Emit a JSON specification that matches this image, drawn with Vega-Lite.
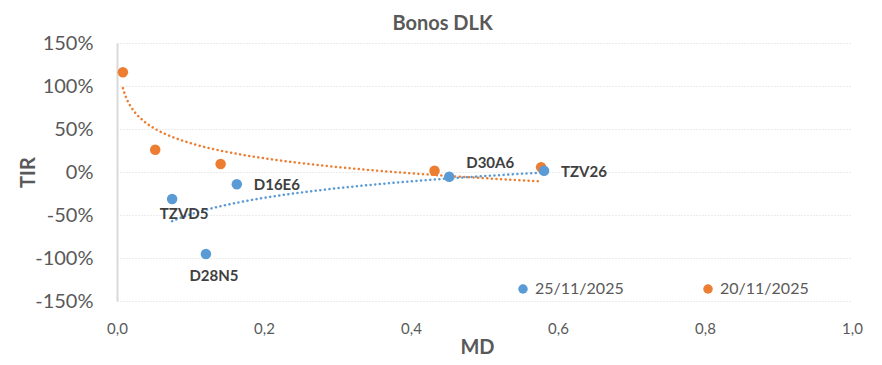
{
  "$schema": "https://vega.github.io/schema/vega-lite/v6.json",
  "width": 735,
  "height": 258,
  "autosize": {"type": "none"},
  "padding": {"left": 117, "top": 43, "right": 30, "bottom": 64},
  "background": "white",
  "title": {
    "text": "Bonos DLK",
    "fontSize": 20,
    "fontWeight": "bold",
    "color": "#595959",
    "font": "Lato",
    "anchor": "middle",
    "frame": "group",
    "dx": -42,
    "offset": 0,
    "dy": 1
  },
  "data": {
    "values": [
      {"md": 0.008, "tir": 1.159, "serie": "20/11/2025", "bono": ""},
      {"md": 0.052, "tir": 0.259, "serie": "20/11/2025", "bono": ""},
      {"md": 0.141, "tir": 0.093, "serie": "20/11/2025", "bono": ""},
      {"md": 0.432, "tir": 0.015, "serie": "20/11/2025", "bono": ""},
      {"md": 0.577, "tir": 0.055, "serie": "20/11/2025", "bono": ""},
      {"md": 0.075, "tir": -0.314, "serie": "25/11/2025", "bono": "TZVD5"},
      {"md": 0.121, "tir": -0.953, "serie": "25/11/2025", "bono": "D28N5"},
      {"md": 0.163, "tir": -0.143, "serie": "25/11/2025", "bono": "D16E6"},
      {"md": 0.452, "tir": -0.055, "serie": "25/11/2025", "bono": "D30A6"},
      {"md": 0.581, "tir": 0.015, "serie": "25/11/2025", "bono": "TZV26"}
    ]
  },
  "layer": [
    {
      "mark": {"type": "rule", "color": "#d9d9d9", "strokeWidth": 2},
      "encoding": {"y": {"datum": 0, "type": "quantitative"}}
    },
    {
      "transform": [{"regression": "tir", "on": "md", "method": "log", "groupby": ["serie"]}],
      "mark": {"type": "line", "strokeWidth": 2.5, "strokeDash": [0.1, 4.5], "strokeCap": "round"},
      "encoding": {
        "x": {"field": "md", "type": "quantitative"},
        "y": {"field": "tir", "type": "quantitative"},
        "color": {"field": "serie", "type": "nominal", "scale": {"domain": ["25/11/2025", "20/11/2025"], "range": ["#5B9BD5", "#ED7D31"]}, "legend": null}
      }
    },
    {
      "mark": {"type": "circle", "size": 110, "opacity": 1},
      "encoding": {
        "x": {"field": "md", "type": "quantitative"},
        "y": {"field": "tir", "type": "quantitative"},
        "color": {
          "field": "serie",
          "type": "nominal",
          "scale": {"domain": ["25/11/2025", "20/11/2025"], "range": ["#5B9BD5", "#ED7D31"]},
          "legend": {
            "title": null,
            "orient": "none",
            "legendX": 398,
            "legendY": 238,
            "direction": "horizontal",
            "symbolType": "circle",
            "symbolSize": 90,
            "symbolStrokeWidth": 0,
            "labelFontSize": 16,
            "labelFont": "Lato",
            "labelColor": "#595959",
            "labelOffset": 4,
            "columnPadding": 76
          }
        }
      }
    },
    {
      "transform": [{"filter": "datum.bono == 'D16E6' || datum.bono == 'TZV26'"}],
      "mark": {"type": "text", "align": "left", "baseline": "middle", "dx": 17, "dy": 1, "font": "Lato", "fontSize": 15, "fontWeight": "bold", "color": "#404040"},
      "encoding": {
        "x": {"field": "md", "type": "quantitative"},
        "y": {"field": "tir", "type": "quantitative"},
        "text": {"field": "bono"}
      }
    },
    {
      "transform": [{"filter": "datum.bono == 'D30A6'"}],
      "mark": {"type": "text", "align": "left", "baseline": "middle", "dx": 17, "dy": -14, "font": "Lato", "fontSize": 15, "fontWeight": "bold", "color": "#404040"},
      "encoding": {
        "x": {"field": "md", "type": "quantitative"},
        "y": {"field": "tir", "type": "quantitative"},
        "text": {"field": "bono"}
      }
    },
    {
      "transform": [{"filter": "datum.bono == 'TZVD5'"}],
      "mark": {"type": "text", "align": "center", "baseline": "middle", "dx": 12, "dy": 15, "font": "Lato", "fontSize": 15, "fontWeight": "bold", "color": "#404040"},
      "encoding": {
        "x": {"field": "md", "type": "quantitative"},
        "y": {"field": "tir", "type": "quantitative"},
        "text": {"field": "bono"}
      }
    },
    {
      "transform": [{"filter": "datum.bono == 'D28N5'"}],
      "mark": {"type": "text", "align": "center", "baseline": "middle", "dx": 8, "dy": 22, "font": "Lato", "fontSize": 15, "fontWeight": "bold", "color": "#404040"},
      "encoding": {
        "x": {"field": "md", "type": "quantitative"},
        "y": {"field": "tir", "type": "quantitative"},
        "text": {"field": "bono"}
      }
    }
  ],
  "resolve": {"legend": {"color": "independent"}},
  "encoding": {
    "x": {
      "field": "md",
      "type": "quantitative",
      "title": "MD",
      "scale": {"domain": [0, 1], "nice": false, "zero": false},
      "axis": {
        "values": [0, 0.2, 0.4, 0.6, 0.8, 1.0],
        "format": ".1f",
        "grid": false,
        "domain": false,
        "ticks": false,
        "labelFlush": false,
        "labelPadding": 20,
        "labelFontSize": 15,
        "labelColor": "#595959",
        "labelFont": "Lato",
        "titleFont": "Lato",
        "titleFontSize": 20,
        "titleFontWeight": "bold",
        "titleColor": "#595959",
        "titlePadding": 1,
        "titleX": 360
      }
    },
    "y": {
      "field": "tir",
      "type": "quantitative",
      "title": "TIR",
      "scale": {"domain": [-1.5, 1.5], "nice": false},
      "axis": {
        "values": [-1.5, -1, -0.5, 0, 0.5, 1, 1.5],
        "format": ".0%",
        "grid": true,
        "gridColor": "#d9d9d9",
        "gridDash": [1, 2],
        "gridWidth": 1,
        "domain": true,
        "domainColor": "#d9d9d9",
        "domainWidth": 2,
        "ticks": false,
        "labelPadding": 24,
        "labelFontSize": 20,
        "labelColor": "#595959",
        "labelFont": "Lato",
        "titleFont": "Lato",
        "titleFontSize": 20,
        "titleFontWeight": "bold",
        "titleColor": "#595959",
        "titleX": -89,
        "titleY": 129,
        "titleAngle": -90,
        "titleBaseline": "middle",
        "titleAlign": "center"
      }
    }
  },
  "config": {
    "view": {"stroke": null},
    "locale": {
      "number": {
        "decimal": ",",
        "thousands": ".",
        "grouping": [3],
        "currency": ["", " €"],
        "minus": "-"
      }
    }
  }
}
